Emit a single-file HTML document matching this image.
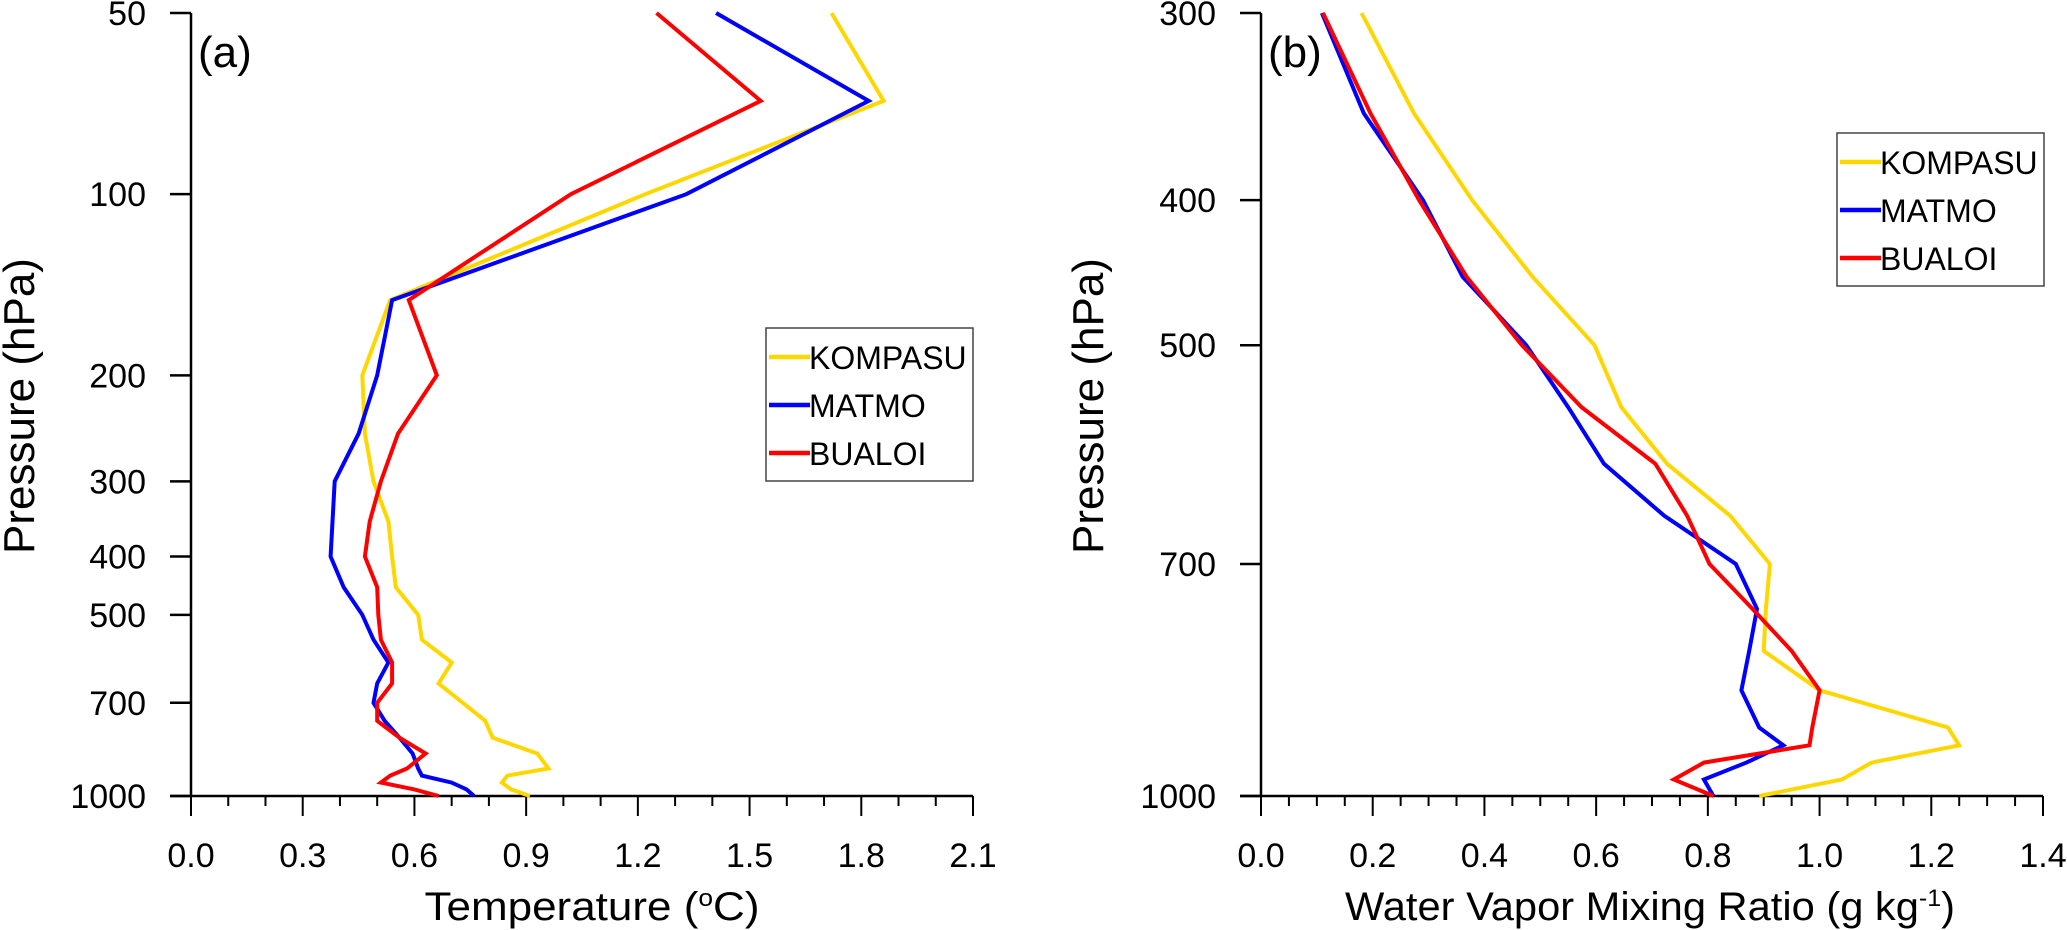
<!DOCTYPE html>
<html><head><meta charset="utf-8"><style>
html,body{margin:0;padding:0;background:#fff;}
svg{display:block;font-family:"Liberation Sans",Arial,sans-serif;}
</style></head><body>
<svg id="chart" width="2067" height="930" viewBox="0 0 2067 930" xmlns="http://www.w3.org/2000/svg"></svg>
<script>
const series = ["KOMPASU","MATMO","BUALOI"];
const colors = ["#FFD700","#0000FF","#FF0000"];
const levelsA = [50,70,100,150,200,250,300,350,400,450,500,550,600,650,700,750,800,850,900,925,950,975,1000];
const tempKompasu = [1.72,1.86,1.22,0.535,0.46,0.467,0.49,0.53,0.54,0.55,0.61,0.62,0.70,0.665,0.73,0.79,0.81,0.93,0.96,0.85,0.835,0.86,0.91];
const tempMatmo   = [1.41,1.82,1.33,0.54,0.50,0.45,0.386,0.38,0.375,0.41,0.46,0.49,0.53,0.50,0.49,0.52,0.56,0.595,0.61,0.62,0.70,0.74,0.76];
const tempBualoi  = [1.25,1.53,1.02,0.585,0.66,0.556,0.51,0.48,0.467,0.50,0.503,0.51,0.54,0.54,0.50,0.50,0.56,0.63,0.58,0.535,0.51,0.60,0.665];
const levelsB = [300,350,400,450,500,550,600,650,700,750,800,850,900,925,950,975,1000];
const qKompasu = [0.18,0.274,0.378,0.486,0.597,0.645,0.727,0.84,0.911,0.904,0.90,1.0,1.23,1.25,1.093,1.04,0.892];
const qMatmo   = [0.109,0.184,0.29,0.361,0.475,0.55,0.614,0.722,0.85,0.888,0.874,0.86,0.892,0.935,0.869,0.793,0.81];
const qBualoi  = [0.111,0.196,0.283,0.368,0.467,0.574,0.706,0.763,0.803,0.88,0.95,1.0,0.987,0.982,0.793,0.739,0.81];
const yTicksA = [50,100,200,300,400,500,700,1000];
const yTicksB = [300,400,500,700,1000];
const xTicksA = ["0.0","0.3","0.6","0.9","1.2","1.5","1.8","2.1"];
const xTicksB = ["0.0","0.2","0.4","0.6","0.8","1.0","1.2","1.4"];

const NS="http://www.w3.org/2000/svg";
const svg=document.getElementById('chart');
function mk(tag,attrs,parent,text){const e=document.createElementNS(NS,tag);for(const k in attrs)e.setAttribute(k,attrs[k]);if(text!==undefined)e.textContent=text;(parent||svg).appendChild(e);return e;}

function panel(cfg){
  const g=mk('g',{});
  
  
  const xs=v=>cfg.x0+(v-cfg.xmin)/(cfg.xmax-cfg.xmin)*(cfg.x1-cfg.x0);
  const ys=p=>cfg.y0+(Math.log10(p)-Math.log10(cfg.pmin))/(Math.log10(cfg.pmax)-Math.log10(cfg.pmin))*(cfg.y1-cfg.y0);
  const ax=mk('line',{x1:cfg.x0,y1:cfg.y0,x2:cfg.x0,y2:cfg.y1,stroke:'#000','stroke-width':2.5},g);
  
  const bx=mk('line',{x1:cfg.x0-21,y1:cfg.y1,x2:cfg.x1,y2:cfg.y1,stroke:'#000','stroke-width':2.5},g);
  
  cfg.yTicks.forEach(p=>{
    const y=ys(p);
    mk('line',{x1:cfg.x0-21,y1:y,x2:cfg.x0,y2:y,stroke:'#000','stroke-width':2.5},g);
    const t=mk('text',{x:cfg.x0-45,y:y+12,'text-anchor':'end','font-size':34},g,String(p));
    
  });
  const nMinor=Math.round((cfg.xmax-cfg.xmin)/cfg.minor);
  for(let i=0;i<=nMinor;i++){
    const v=cfg.xmin+i*cfg.minor;const x=xs(v);
    const major=i%cfg.per===0;
    mk('line',{x1:x,y1:cfg.y1,x2:x,y2:cfg.y1+(major?20:10),stroke:'#000','stroke-width':2},g);
  }
  cfg.xTicks.forEach(lab=>{
    const x=xs(parseFloat(lab));
    const t=mk('text',{x:x,y:867,'text-anchor':'middle','font-size':34},g,lab);
    
  });
  const yt=mk('text',{x:0,y:0,'text-anchor':'middle','font-size':44,transform:`translate(${cfg.ytx},406) rotate(-90)`},g,'Pressure (hPa)');
  
  const xt=mk('text',{x:cfg.xtx,y:920,'text-anchor':'middle','font-size':40,textLength:cfg.xtw,lengthAdjust:'spacingAndGlyphs'},g);
  
  xt.innerHTML=cfg.xTitle;
  const pl=mk('text',{x:cfg.x0+7,y:67,'font-size':44},g,cfg.label);
  
  cfg.data.forEach((vals,si)=>{
    const pts=vals.map((v,i)=>xs(v).toFixed(1)+','+ys(cfg.levels[i]).toFixed(1)).join(' ');
    const l=mk('polyline',{points:pts,fill:'none',stroke:colors[si],'stroke-width':4,'stroke-linejoin':'miter'},g);
    
    
  });
  const lg=mk('g',{},g);
  
  
  mk('rect',{x:cfg.lx,y:cfg.ly,width:207,height:153,fill:'#fff',stroke:'#444','stroke-width':1.5},lg);
  series.forEach((s,si)=>{
    const y=cfg.ly+29+si*48;
    const e=mk('g',{},lg);
    
    
    mk('line',{x1:cfg.lx+3,y1:y,x2:cfg.lx+44,y2:y,stroke:colors[si],'stroke-width':4.5},e);
    mk('text',{x:cfg.lx+43,y:y+12,'font-size':32},e,s);
  });
}
panel({name:'panel-a-temperature',x0:191,x1:973,xmin:0,xmax:2.1,minor:0.1,per:3,y0:13,y1:796,pmin:50,pmax:1000,
  yTicks:yTicksA,xTicks:xTicksA,levels:levelsA,data:[tempKompasu,tempMatmo,tempBualoi],
  ytx:34,xtx:592,xtw:335,xTitle:'Temperature (<tspan font-size="24" dy="-14">o</tspan><tspan dy="14">C)</tspan>',label:'(a)',lx:766,ly:328});
panel({name:'panel-b-mixing-ratio',x0:1261,x1:2043,xmin:0,xmax:1.4,minor:0.05,per:4,y0:13,y1:796,pmin:300,pmax:1000,
  yTicks:yTicksB,xTicks:xTicksB,levels:levelsB,data:[qKompasu,qMatmo,qBualoi],
  ytx:1103,xtx:1650,xtw:610,xTitle:'Water Vapor Mixing Ratio (g kg<tspan font-size="24" dy="-14">-1</tspan><tspan dy="14">)</tspan>',label:'(b)',lx:1837,ly:133});
</script>
</body></html>
